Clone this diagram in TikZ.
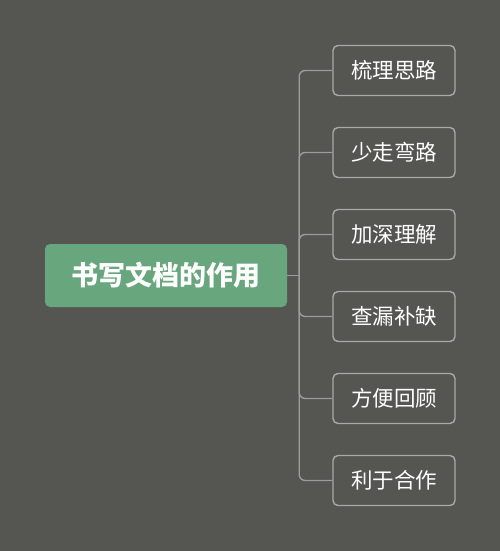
\documentclass[tikz,border=0pt]{standalone}
\usepackage{fontspec}
\setmainfont{Noto Sans CJK SC}
\usepackage{xcolor}
\usepackage{tikz}
\usetikzlibrary{trees}

\definecolor{bggray}{HTML}{555652}
\definecolor{rootgreen}{HTML}{68A67D}
\definecolor{boxline}{HTML}{A9AAA7}
\definecolor{linkgray}{HTML}{9C9D9A}

\begin{document}
\begin{tikzpicture}[
      x=1pt, y=1pt,
      grow'=right,
      level distance=228pt,
      level 1/.style={sibling distance=82pt},
      root/.style={fill=rootgreen, rounded corners=5pt, text=white,
        minimum width=242pt, minimum height=63pt, inner sep=0pt,
        font=\fontsize{27}{31}\selectfont\bfseries},
      leaf/.style={draw=boxline, line width=1.4pt, rounded corners=5pt, text=white,
        minimum width=122pt, minimum height=50pt, inner sep=0pt,
        font=\fontsize{21.5}{25}\selectfont},
      edge from parent/.style={draw=linkgray, line width=1.4pt, rounded corners=6pt},
      edge from parent path={([xshift=12pt]\tikzparentnode.east) |- (\tikzchildnode.west)}
    ]
    \fill[bggray] (0,0) rectangle (500,-551);
    \node[root] (purpose) at (166,-275.5) {书写文档的作用}
    child {
      node[leaf] (sort) {梳理思路}
    }
    child {
      node[leaf] (detour) {少走弯路}
    }
    child {
      node[leaf] (deepen) {加深理解}
    }
    child {
      node[leaf] (gaps) {查漏补缺}
    }
    child {
      node[leaf] (review) {方便回顾}
    }
    child {
      node[leaf] (team) {利于合作}
    };
    \draw[linkgray, line width=1.4pt] (purpose.east) -- ++(12.7,0);
\end{tikzpicture}
\end{document}
